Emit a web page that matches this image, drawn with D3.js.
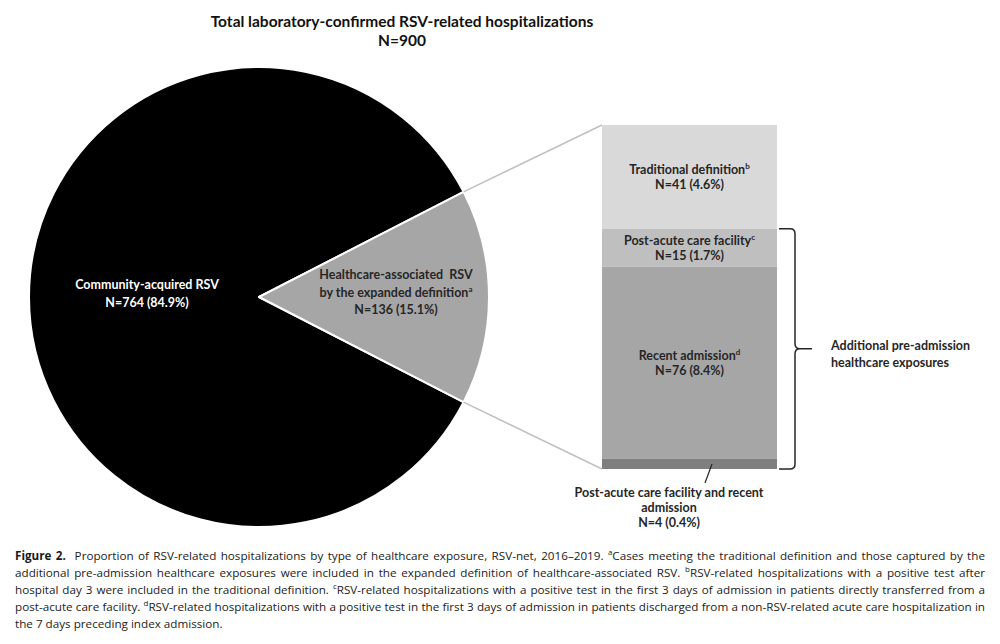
<!DOCTYPE html>
<html>
<head>
<meta charset="utf-8">
<script src="https://cdn.jsdelivr.net/npm/d3@7"></script>
<style>
  html, body { margin: 0; padding: 0; background: #fff; }
  svg { display: block; }
</style>
</head>
<body>
<svg id="chart" width="1000" height="644"></svg>
<script>
// ---------------- DATA ----------------
const titleLines = ["Total laboratory-confirmed RSV-related hospitalizations", "N=900"];
const totalN = 900;
const pieCategories = ["Community-acquired RSV", "Healthcare-associated  RSV|by the expanded definition"];
const pieSuperscripts = ["", "a"];
const pieValues = [764, 136];

const barCategories = ["Traditional definition", "Post-acute care facility", "Recent admission", "Post-acute care facility and recent|admission"];
const barSuperscripts = ["b", "c", "d", ""];
const barValues = [41, 15, 76, 4];

const bracketLabel = ["Additional pre-admission", "healthcare exposures"];

const captionLines = [
  [{b: "Figure 2."}, {t: "  Proportion of RSV-related hospitalizations by type of healthcare exposure, RSV-net, 2016\u20132019. "}, {s: "a"}, {t: "Cases meeting the traditional definition and those captured by the"}],
  [{t: "additional pre-admission healthcare exposures were included in the expanded definition of healthcare-associated RSV. "}, {s: "b"}, {t: "RSV-related hospitalizations with a positive test after"}],
  [{t: "hospital day 3 were included in the traditional definition. "}, {s: "c"}, {t: "RSV-related hospitalizations with a positive test in the first 3 days of admission in patients directly transferred from a"}],
  [{t: "post-acute care facility. "}, {s: "d"}, {t: "RSV-related hospitalizations with a positive test in the first 3 days of admission in patients discharged from a non-RSV-related acute care hospitalization in"}],
  [{t: "the 7 days preceding index admission."}]
];

// ---------------- STYLE ----------------
const labelFont = "Lato, 'Open Sans', sans-serif";
const captionFont = "'Open Sans', 'Noto Sans', sans-serif";
const pieColors = ["#000000", "#a6a6a6"];
const barColors = ["#d9d9d9", "#bfbfbf", "#a6a6a6", "#7f7f7f"];
const textDark = "#262626";

const svg = d3.select("#chart");
const pct = v => (v / totalN * 100).toFixed(1) + "%";

// ---------------- TITLE ----------------
svg.append("g").selectAll("text").data(titleLines).join("text")
  .attr("x", 402).attr("y", (d, i) => 27 + i * 19)
  .attr("text-anchor", "middle")
  .attr("font-family", labelFont).attr("font-weight", 700).attr("font-size", 15.5)
  .attr("fill", "#111").text(d => d);

// ---------------- PIE ----------------
const cx = 259, cy = 297, R = 230;
const theta = 2 * Math.PI * pieValues[1] / d3.sum(pieValues);
const start = Math.PI / 2 + theta / 2;
const pie = d3.pie().sort(null).value(d => d).startAngle(start).endAngle(start + 2 * Math.PI);
const arcs = pie(pieValues);
const arc = d3.arc().innerRadius(0).outerRadius(R);

const gPie = svg.append("g").attr("transform", `translate(${cx},${cy})`);
gPie.selectAll("path").data(arcs).join("path")
  .attr("d", arc)
  .attr("fill", (d, i) => pieColors[i])
  .attr("stroke", "#fff").attr("stroke-width", 2).attr("stroke-linejoin", "round");

// pie labels
const pieLabelPos = [[147 - cx, 0], [396 - cx, 0]];
arcs.forEach((a, i) => {
  const lines = pieCategories[i].split("|");
  lines.push("N=" + pieValues[i] + " (" + pct(pieValues[i]) + ")");
  const y0 = i === 0 ? -8 : -18;
  const t = gPie.append("text")
    .attr("text-anchor", "middle")
    .attr("font-family", labelFont).attr("font-weight", 700).attr("font-size", 12.5)
    .attr("fill", i === 0 ? "#fff" : textDark)
    .attr("xml:space", "preserve");
  lines.forEach((ln, j) => {
    t.append("tspan").attr("x", pieLabelPos[i][0]).attr("y", y0 + j * 17.5).text(ln);
    if (j === lines.length - 2 && pieSuperscripts[i]) {
      t.append("tspan").attr("font-size", 8).attr("dy", -5).text(pieSuperscripts[i]);
    }
  });
});

// ---------------- STACKED BAR ----------------
const barX0 = 602, barW = 175;
const y = d3.scaleLinear().domain([0, d3.sum(barValues)]).range([125, 469]);
const cum = d3.cumsum(barValues);
const segs = barValues.map((v, i) => ({v, i, y0: y(cum[i] - v), y1: y(cum[i])}));

svg.append("g").selectAll("rect").data(segs).join("rect")
  .attr("x", barX0).attr("width", barW)
  .attr("y", d => d.y0).attr("height", d => d.y1 - d.y0)
  .attr("fill", d => barColors[d.i]);

// connector lines from pie wedge to bar
const aTop = arcs[1].startAngle, aBot = arcs[1].endAngle;
const pt = a => [cx + R * Math.sin(a), cy - R * Math.cos(a)];
const [tx, ty] = pt(aTop), [bx, by] = pt(aBot);
svg.append("line").attr("x1", tx).attr("y1", ty).attr("x2", barX0).attr("y2", y(0))
  .attr("stroke", "#c0c0c0").attr("stroke-width", 1.5);
svg.append("line").attr("x1", bx).attr("y1", by).attr("x2", barX0).attr("y2", y(d3.sum(barValues)))
  .attr("stroke", "#c0c0c0").attr("stroke-width", 1.5);

// labels inside segments (first three)
const barCx = barX0 + barW / 2;
segs.slice(0, 3).forEach(s => {
  const mid = (s.y0 + s.y1) / 2;
  const t = svg.append("text").attr("text-anchor", "middle")
    .attr("font-family", labelFont).attr("font-weight", 700).attr("font-size", 12.5)
    .attr("fill", textDark);
  t.append("tspan").attr("x", barCx).attr("y", mid - 3).text(barCategories[s.i]);
  t.append("tspan").attr("font-size", 8).attr("dy", -5).text(barSuperscripts[s.i]);
  t.append("tspan").attr("x", barCx).attr("y", mid + 12).text("N=" + s.v + " (" + pct(s.v) + ")");
});

// outside label for last segment
const last = segs[3];
const lastMid = (last.y0 + last.y1) / 2;
svg.append("line").attr("x1", 712).attr("y1", lastMid).attr("x2", 705).attr("y2", 483)
  .attr("stroke", "#262626").attr("stroke-width", 1.2);
const lastLines = barCategories[3].split("|").concat(["N=" + last.v + " (" + pct(last.v) + ")"]);
svg.append("g").selectAll("text").data(lastLines).join("text")
  .attr("x", 669).attr("y", (d, i) => 497 + i * 15)
  .attr("text-anchor", "middle")
  .attr("font-family", labelFont).attr("font-weight", 700).attr("font-size", 12.5)
  .attr("fill", textDark).text(d => d);

// bracket
const bTop = y(barValues[0]), bBot = y(d3.sum(barValues)), bMid = (bTop + bBot) / 2;
const x0 = barX0 + barW + 2, x1 = 795, xn = 812, r = 5;
const br = d3.path();
br.moveTo(x0, bTop); br.lineTo(x1 - r, bTop); br.quadraticCurveTo(x1, bTop, x1, bTop + r);
br.lineTo(x1, bMid - r); br.quadraticCurveTo(x1, bMid, x1 + r, bMid); br.lineTo(xn, bMid);
br.moveTo(x1 + r, bMid); br.quadraticCurveTo(x1, bMid, x1, bMid + r);
br.lineTo(x1, bBot - r); br.quadraticCurveTo(x1, bBot, x1 - r, bBot); br.lineTo(x0, bBot);
svg.append("path").attr("d", br.toString()).attr("fill", "none")
  .attr("stroke", "#262626").attr("stroke-width", 1.5);

svg.append("g").selectAll("text").data(bracketLabel).join("text")
  .attr("x", 831).attr("y", (d, i) => bMid + 1 + i * 17)
  .attr("font-family", labelFont).attr("font-weight", 700).attr("font-size", 12.5)
  .attr("fill", textDark).text(d => d);

// ---------------- CAPTION ----------------
const capX = 15, capW = 970;
let capSize = 12.6;
function buildCaption(size) {
  const g = svg.append("g").attr("class", "caption");
  const texts = [];
  captionLines.forEach((parts, i) => {
    const t = g.append("text").attr("x", capX).attr("y", 560 + i * 16.9)
      .attr("font-family", captionFont).attr("font-size", size).attr("fill", "#1a1a1a")
      .attr("xml:space", "preserve");
    let spaces = 0, prevSup = false;
    parts.forEach(p => {
      if (p.b) { t.append("tspan").attr("font-weight", 700).text(p.b); spaces += (p.b.match(/ /g) || []).length; prevSup = false; }
      else if (p.s) { t.append("tspan").attr("font-size", size * 0.68).attr("dy", -5).text(p.s); prevSup = true; }
      else {
        t.append("tspan").attr("dy", prevSup ? 5 : null).text(p.t);
        spaces += (p.t.match(/ /g) || []).length; prevSup = false;
      }
    });
    texts.push({t, spaces, w: t.node().getComputedTextLength(), last: i === captionLines.length - 1});
  });
  return {g, texts};
}
let cap = buildCaption(capSize);
const maxW = d3.max(cap.texts, d => d.w);
if (maxW > capW - 4) {
  cap.g.remove();
  capSize = capSize * (capW - 4) / maxW;
  cap = buildCaption(capSize);
}
cap.texts.forEach(d => {
  if (!d.last) d.t.style("word-spacing", ((capW - d.w) / d.spaces) + "px");
});
</script>
</body>
</html>
